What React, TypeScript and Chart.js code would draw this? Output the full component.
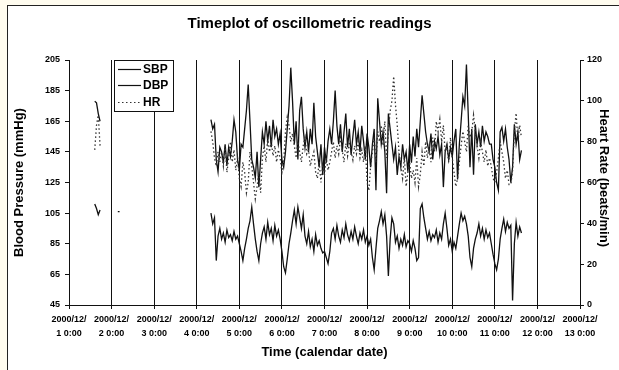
import { useEffect, useRef } from "react";
import { Chart, registerables } from "chart.js";
Chart.register(...registerables);

const FONT = "'Liberation Sans', Arial, Helvetica, sans-serif";
const TITLE = "Timeplot of oscillometric readings";
const X_TITLE = "Time (calendar date)";
const Y_LEFT_TITLE = "Blood Pressure (mmHg)";
const Y_RIGHT_TITLE = "Heart Rate (beats/min)";
const DATE_PREFIX = "2000/12/";
const DAY_LABELS = ["1", "2", "3", "4", "5", "6", "7", "8", "9", "10", "11", "12", "13"];
const BP_TICKS = [45, 65, 85, 105, 125, 145, 165, 185, 205];
const HR_TICKS = [0, 20, 40, 60, 80, 100, 120];
const SERIES_NAMES = ["SBP", "DBP", "HR"];

// hours since 2000/12/1 0:00
const earlyHours = [14.5, 15.5, 16.5, 17.5];
const earlySBP = [178, 177, 170, 165];
const earlyDBP = [111, 108, 104, 107];
const earlyHR = [76, 88, 93, 78];

const strayHours = [27.5, 28.5];
const strayDBP = [106, 106];

const mainHours = [
  80, 81, 82, 83, 84, 85, 86, 87, 88, 89, 90, 91, 92, 93, 94, 95,
  96, 97, 98, 99, 100, 101, 102, 103, 104, 105, 106, 107, 108, 109, 110, 111,
  112, 113, 114, 115, 116, 117, 118, 119, 120, 121, 122, 123, 124, 125, 126, 127,
  128, 129, 130, 131, 132, 133, 134, 135, 136, 137, 138, 139, 140, 141, 142, 143,
  144, 145, 146, 147, 148, 149, 150, 151, 152, 153, 154, 155, 156, 157, 158, 159,
  160, 161, 162, 163, 164, 165, 166, 167, 168, 169, 170, 171, 172, 173, 174, 175,
  176, 177, 178, 179, 180, 181, 182, 183, 184, 185, 186, 187, 188, 189, 190, 191,
  192, 193, 194, 195, 196, 197, 198, 199, 200, 201, 202, 203, 204, 205, 206, 207,
  208, 209, 210, 211, 212, 213, 214, 215, 216, 217, 218, 219, 220, 221, 222, 223,
  224, 225, 226, 227, 228, 229, 230, 231, 232, 233, 234, 235, 236, 237, 238, 239,
  240, 241, 242, 243, 244, 245, 246, 247, 248, 249, 250, 251, 252, 253, 254, 255,
];

const mainSBP = [
  166, 160, 163, 140, 132, 148, 145, 138,
  150, 136, 148, 142, 152, 166, 158, 140,
  133, 150, 148, 160, 172, 189, 165, 140,
  135, 128, 145, 122, 140, 158, 150, 165,
  152, 162, 148, 166, 155, 160, 150, 157,
  140, 135, 145, 160, 175, 200, 178, 150,
  165, 140, 172, 181, 160, 148, 158, 145,
  160, 150, 177, 155, 145, 135, 150, 130,
  148, 138, 152, 160, 150, 165, 185, 162,
  150, 163, 145, 158, 170, 148, 160, 143,
  155, 166, 150, 158, 145, 162, 152, 140,
  157, 148, 135, 150, 160, 120, 180, 165,
  150, 158, 145, 118, 170, 160, 150, 140,
  148, 130, 142, 135, 150, 140, 145, 132,
  150, 138, 155, 142, 160, 148, 165, 182,
  170, 158, 150, 145, 157, 140, 152, 147,
  155, 143, 150, 122, 145, 150, 140, 148,
  142, 152, 160, 127, 150, 165, 181, 175,
  202, 170, 135, 160, 130, 163, 150, 158,
  148, 162, 152, 158, 155, 150, 150, 140,
  135, 125, 120, 158, 161, 152, 160, 148,
  140, 125, 135, 163, 150, 158, 140, 146,
];

const mainDBP = [
  105, 98, 102, 74, 90, 95, 88, 92,
  86, 94, 89, 91, 87, 93, 88, 90,
  85, 80, 74, 82, 88, 95, 100, 109,
  98, 88, 80, 74, 85, 92, 96, 88,
  99, 91, 95, 87, 97, 90, 94, 88,
  80, 70, 66, 75, 85, 92, 100, 107,
  98, 109, 102, 95, 104, 90, 85, 93,
  83, 88, 80, 91, 84, 87, 82, 79,
  80, 76, 72, 80, 92, 95, 88, 97,
  90, 86, 94, 89, 98, 91, 87, 93,
  88, 96, 90, 85, 92, 88, 94, 86,
  90, 84, 88, 76, 68, 82, 95, 100,
  106, 98, 104, 90, 64, 88, 102, 98,
  86, 90, 82, 88, 84, 91, 83, 87,
  85, 80, 87, 82, 74, 76, 108, 111,
  102, 95, 88, 93, 87, 91, 89, 94,
  86, 92, 88, 98, 105, 95, 84, 88,
  80, 86, 82, 90, 98, 105, 100, 103,
  98, 90, 76, 70, 82, 88, 92, 98,
  90, 95, 88, 94, 89, 92, 85, 78,
  72, 68, 75, 88, 95, 101, 93, 99,
  95, 97, 48, 85, 99, 90, 96, 92,
];

const mainHR = [
  85, 80, 72, 68, 75, 70, 75, 68,
  78, 65, 72, 80, 70, 76, 66, 72,
  62, 58, 70, 65, 55, 60, 75, 68,
  60, 52, 58, 65, 55, 72, 78, 70,
  82, 75, 80, 73, 78, 70, 76, 72,
  65, 70, 85, 92, 88, 80, 84, 78,
  72, 80, 75, 70, 78, 82, 74, 76,
  68, 72, 75, 65, 62, 70, 60, 68,
  64, 72, 66, 70, 75, 80, 72, 78,
  74, 82, 76, 70, 79, 73, 80, 75,
  71, 78, 74, 80, 72, 76, 70, 78,
  60, 56, 68, 75, 82, 70, 85, 80,
  88, 78, 90, 72, 85, 95, 100, 112,
  98, 88, 75, 68, 62, 72, 58, 65,
  70, 62, 66, 60, 72, 58, 64, 75,
  68, 80, 72, 78, 70, 82, 75, 90,
  85, 91, 80, 88, 75, 78, 70, 82,
  72, 65, 58, 62, 70, 78, 85, 80,
  75, 88, 82, 85, 93, 85, 78, 72,
  80, 75, 70, 76, 68, 72, 68, 62,
  60, 65, 72, 80, 75, 70, 62, 66,
  59, 59, 66, 85, 94, 80, 88, 82,
];

type Pt = { x: number; y: number | null };
const seg = (hours: number[], vals: number[]): Pt[] => hours.map((h, i) => ({ x: h, y: vals[i] }));
const gap = (h: number): Pt => ({ x: h, y: null });

const overlayPlugin = {
  id: "overlay",
  afterDraw(chart: any) {
    const { ctx, chartArea } = chart;
    ctx.save();
    // legend box
    const bx = chartArea.left + 45;
    const by = chartArea.top;
    const bw = 59;
    const bh = 51;
    ctx.fillStyle = "#fff";
    ctx.fillRect(bx, by, bw, bh);
    ctx.strokeStyle = "#111";
    ctx.lineWidth = 1;
    ctx.strokeRect(bx + 0.5, by + 0.5, bw, bh);
    const rows = [9, 25, 42];
    ctx.font = `bold 12px ${FONT}`;
    ctx.textBaseline = "middle";
    ctx.textAlign = "left";
    rows.forEach((dy, i) => {
      const yy = by + dy + 0.5;
      ctx.beginPath();
      ctx.setLineDash(i === 2 ? [1.5, 2.5] : []);
      ctx.lineWidth = 1.2;
      ctx.strokeStyle = i === 2 ? "#333" : "#111";
      ctx.moveTo(bx + 4, yy);
      ctx.lineTo(bx + 27, yy);
      ctx.stroke();
      ctx.setLineDash([]);
      ctx.fillStyle = "#000";
      ctx.fillText(SERIES_NAMES[i], bx + 29, yy);
    });
    // right axis title
    ctx.save();
    ctx.translate(604, 178);
    ctx.rotate(Math.PI / 2);
    ctx.textAlign = "center";
    ctx.textBaseline = "middle";
    ctx.font = `bold 13px ${FONT}`;
    ctx.fillStyle = "#000";
    ctx.fillText(Y_RIGHT_TITLE, 0, 0);
    ctx.restore();
    ctx.restore();
  },
};

export default function App() {
  const ref = useRef<HTMLCanvasElement>(null);
  useEffect(() => {
    document.body.style.margin = "0";
    document.body.style.background = "#fffcef";
    const canvas = ref.current!;
    const sbp = [...seg(earlyHours, earlySBP), gap(40), ...seg(mainHours, mainSBP)];
    const dbp = [
      ...seg(earlyHours, earlyDBP),
      gap(22),
      ...seg(strayHours, strayDBP),
      gap(50),
      ...seg(mainHours, mainDBP),
    ];
    const hr = [...seg(earlyHours, earlyHR), gap(40), ...seg(mainHours, mainHR)];
    const tickFont = { family: FONT, size: 9, weight: "bold" as const, lineHeight: 1.5 };
    const chart = new Chart(canvas, {
      type: "line",
      data: {
        datasets: [
          {
            label: SERIES_NAMES[2],
            data: hr as any,
            yAxisID: "y2",
            borderColor: "#333",
            borderWidth: 1.3,
            borderDash: [1.5, 2.5],
            pointRadius: 0,
            tension: 0,
            spanGaps: false,
          },
          {
            label: SERIES_NAMES[0],
            data: sbp as any,
            yAxisID: "y",
            borderColor: "#111",
            borderWidth: 1.3,
            pointRadius: 0,
            tension: 0,
            spanGaps: false,
          },
          {
            label: SERIES_NAMES[1],
            data: dbp as any,
            yAxisID: "y",
            borderColor: "#111",
            borderWidth: 1.3,
            pointRadius: 0,
            tension: 0,
            spanGaps: false,
          },
        ],
      },
      options: {
        animation: false,
        responsive: false,
        devicePixelRatio: 1,
        layout: { padding: 0 },
        plugins: {
          legend: { display: false },
          tooltip: { enabled: false },
          title: {
            display: true,
            text: TITLE,
            color: "#000",
            font: { family: FONT, size: 15, weight: "bold", lineHeight: 1.2 },
            padding: { top: 15, bottom: 27 },
          },
        },
        scales: {
          x: {
            type: "linear",
            min: 0,
            max: 288,
            afterFit: (s: any) => {
              s.height = 65;
            },
            afterBuildTicks: (s: any) => {
              s.ticks = DAY_LABELS.map((_, i) => ({ value: i * 24 }));
            },
            ticks: {
              autoSkip: false,
              maxRotation: 0,
              minRotation: 0,
              color: "#000",
              font: tickFont,
              padding: 4,
              callback: (v: any) => [DATE_PREFIX, `${DAY_LABELS[Math.round(Number(v) / 24)]} 0:00`],
            },
            grid: { color: "#111", lineWidth: 1, drawTicks: true, tickLength: 4 },
            border: { display: true, color: "#111", width: 1 },
            title: {
              display: true,
              text: X_TITLE,
              color: "#000",
              font: { family: FONT, size: 13, weight: "bold", lineHeight: 1.2 },
              padding: { top: 0, bottom: 10 },
            },
          },
          y: {
            type: "linear",
            position: "left",
            min: 45,
            max: 205,
            afterFit: (s: any) => {
              s.width = 69;
            },
            afterBuildTicks: (s: any) => {
              s.ticks = BP_TICKS.map((v) => ({ value: v }));
            },
            ticks: { color: "#000", font: tickFont, padding: 5 },
            grid: { drawOnChartArea: false, color: "#111", tickLength: 4 },
            border: { display: true, color: "#111", width: 1 },
            title: {
              display: true,
              text: Y_LEFT_TITLE,
              color: "#000",
              font: { family: FONT, size: 13, weight: "bold", lineHeight: 1.2 },
              padding: { top: 12, bottom: 0 },
            },
          },
          y2: {
            type: "linear",
            position: "right",
            min: 0,
            max: 120,
            afterFit: (s: any) => {
              s.width = 39;
            },
            afterBuildTicks: (s: any) => {
              s.ticks = HR_TICKS.map((v) => ({ value: v }));
            },
            ticks: { color: "#000", font: tickFont, padding: 3 },
            grid: { drawOnChartArea: false, color: "#111", tickLength: 4 },
            border: { display: true, color: "#111", width: 1 },
          },
        },
      },
      plugins: [overlayPlugin],
    });
    return () => chart.destroy();
  }, []);
  return (
    <div style={{ position: "relative", width: 619, height: 370, background: "#fffcef", overflow: "hidden" }}>
      <div
        style={{
          position: "absolute",
          left: 7,
          top: 5,
          width: 640,
          height: 400,
          background: "#fff",
          borderLeft: "1px solid #222",
          borderTop: "1px solid #222",
        }}
      />
      <canvas
        ref={ref}
        width={619}
        height={370}
        style={{ position: "absolute", left: 0, top: 0, width: 619, height: 370 }}
      />
    </div>
  );
}
